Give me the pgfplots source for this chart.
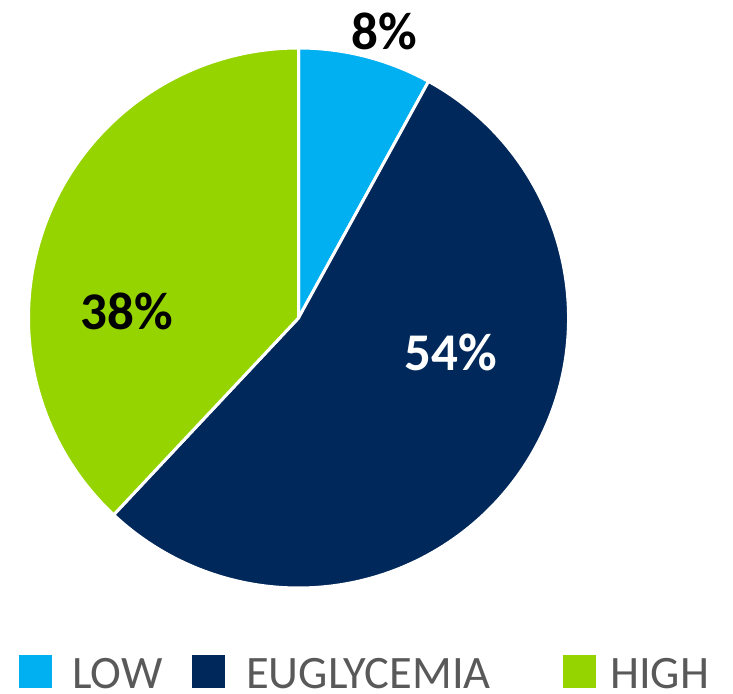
\documentclass[border=0pt]{standalone}
\usepackage{pgfplots}
\usepackage{pgfplotstable}
\pgfplotsset{compat=1.18}
\usepackage{fontspec}
\setmainfont{Carlito}
\definecolor{lowc}{HTML}{00B0F0}
\definecolor{eugc}{HTML}{00285A}
\definecolor{highc}{HTML}{96D400}
\definecolor{legtext}{HTML}{595959}
\pgfplotstableread{
label value
LOW 8
EUGLYCEMIA 54
HIGH 38
}\piedata
\begin{document}
\begin{tikzpicture}
\pgfplotstablegetelem{0}{value}\of\piedata \let\vlow\pgfplotsretval
\pgfplotstablegetelem{1}{value}\of\piedata \let\veug\pgfplotsretval
\pgfplotstablegetelem{2}{value}\of\piedata \let\vhigh\pgfplotsretval
\pgfmathsetmacro{\aA}{90}
\pgfmathsetmacro{\aB}{90-3.6*\vlow}
\pgfmathsetmacro{\aC}{\aB-3.6*\veug}
\pgfmathsetmacro{\aD}{\aC-3.6*\vhigh}
\begin{axis}[
  x=1pt, y=1pt,
  xmin=0, xmax=733, ymin=0, ymax=693,
  hide axis, clip=false,
  anchor=origin, at={(0,0)},
]
\def\cx{298.5}\def\cy{375}\def\R{270pt}
\fill[lowc, draw=white, line width=3pt] (axis cs:\cx,\cy) -- ++(\aA:\R) arc[start angle=\aA, end angle=\aB, radius=\R] -- cycle;
\fill[eugc, draw=white, line width=3pt] (axis cs:\cx,\cy) -- ++(\aB:\R) arc[start angle=\aB, end angle=\aC, radius=\R] -- cycle;
\fill[highc, draw=white, line width=3pt] (axis cs:\cx,\cy) -- ++(\aC:\R) arc[start angle=\aC, end angle=\aD, radius=\R] -- cycle;
\node[font=\fontsize{53}{60}\selectfont\bfseries, text=black] at (axis cs:384,662) {\vlow\%};
\node[font=\fontsize{53}{60}\selectfont\bfseries, text=white] at (axis cs:451,341) {\veug\%};
\node[font=\fontsize{53}{60}\selectfont\bfseries, text=black] at (axis cs:127,382) {\vhigh\%};
% legend
\fill[lowc] (axis cs:19,5) rectangle (axis cs:52,38);
\fill[eugc] (axis cs:192,5) rectangle (axis cs:225,38);
\fill[highc] (axis cs:563,5) rectangle (axis cs:596,38);
\node[anchor=base west, inner sep=0pt, text depth=0pt, text=legtext, font=\fontsize{46.5}{50}\selectfont] at (axis cs:72,5) {LOW};
\node[anchor=base west, inner sep=0pt, text depth=0pt, text=legtext, font=\fontsize{46.5}{50}\selectfont] at (axis cs:246,5) {EUGLYCEMIA};
\node[anchor=base west, inner sep=0pt, text depth=0pt, text=legtext, font=\fontsize{46.5}{50}\selectfont] at (axis cs:610,5) {HIGH};
\end{axis}
\pgfresetboundingbox
\useasboundingbox (0,0) rectangle (733pt,693pt);
\end{tikzpicture}
\end{document}
